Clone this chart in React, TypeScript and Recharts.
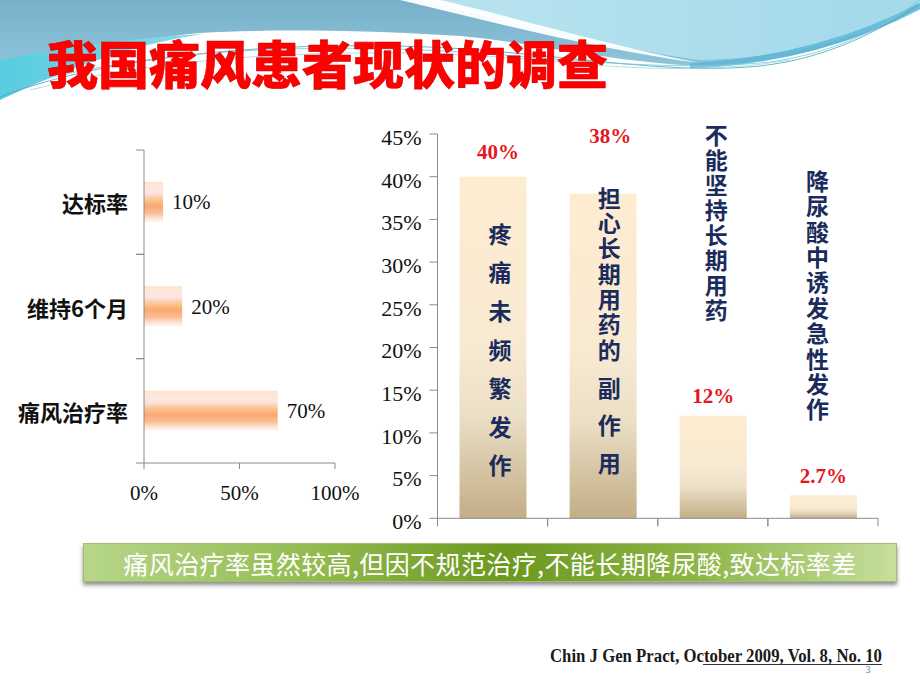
import React from 'react';
import { BarChart, Bar, XAxis, YAxis, LabelList } from 'recharts';

// ---------- data ----------
const leftCategories = ['达标率', '维持6个月', '痛风治疗率'];
const leftValues = [10, 20, 70];
const leftTicks = [0, 50, 100];

const rightCategories = ['疼痛未频繁发作', '担心长期用药的副作用', '不能坚持长期用药', '降尿酸中诱发急性发作'];
const rightValues = [40, 38, 12, 2.7];
const rightValueLabels = ['40%', '38%', '12%', '2.7%'];
const rightTicks = [0, 5, 10, 15, 20, 25, 30, 35, 40, 45];

const titleText = '我国痛风患者现状的调查';
const bannerText = '痛风治疗率虽然较高,但因不规范治疗,不能长期降尿酸,致达标率差';
const citationText = 'Chin J Gen Pract, October 2009, Vol. 8, No. 10';
const pageNumber = '3';

const leftData = leftCategories.map((name, i) => ({ name, value: leftValues[i] }));
const rightData = rightCategories.map((name, i) => ({ name, value: rightValues[i] }));

// ---------- layout ----------
const W = 920;
const H = 690;
const SERIF = '"Liberation Serif", "DejaVu Serif", serif';
const CJK = '"Noto Sans CJK SC", "Noto Sans", sans-serif';
const AXIS = '#8a8a8a';

const LEFT_PLOT = { left: 144, right: 335, top: 150, bottom: 463 };
const RIGHT_PLOT = { left: 437.5, right: 878, top: 134, bottom: 518.3 };
const leftBand = (LEFT_PLOT.bottom - LEFT_PLOT.top) / leftCategories.length;
const rightBand = (RIGHT_PLOT.right - RIGHT_PLOT.left) / rightCategories.length;

const RED_LIFT = [25, 58, 20, 19];
const RED_DX = [5, 7, 0, 0];
const VFONT = 23;
// vertical text segments: [from char, to char, first char centre y, step]
const V_LAYOUT = [
  { dx: 7, segs: [{ from: 0, to: 7, top: 234, step: 38.6 }] },
  { dx: 6, segs: [{ from: 0, to: 7, top: 198, step: 25.3 }, { from: 7, to: 10, top: 388, step: 37.6 }] },
  { dx: 3, segs: [{ from: 0, to: 8, top: 135, step: 25 }] },
  { dx: -6, segs: [{ from: 0, to: 10, top: 181, step: 25.4 }] },
];

const LeftCatTick = (props: any) => {
  const { x, y, payload } = props;
  const ax = Number(x);
  const cy = Number(y);
  return (
    <g>
      <line x1={ax - 8} x2={ax} y1={cy - leftBand / 2} y2={cy - leftBand / 2} stroke={AXIS} />
      <line x1={ax - 8} x2={ax} y1={cy + leftBand / 2} y2={cy + leftBand / 2} stroke={AXIS} />
      <text x={ax - 16} y={cy} textAnchor="end" dominantBaseline="central" fontFamily={CJK} fontWeight={700} fontSize={22} fill="#111">
        {payload.value}
      </text>
    </g>
  );
};

const RightCatTick = (props: any) => {
  const { x, y } = props;
  const cx = Number(x);
  const ay = Number(y);
  return (
    <g>
      <line x1={cx - rightBand / 2} x2={cx - rightBand / 2} y1={ay} y2={ay + 8} stroke={AXIS} />
      <line x1={cx + rightBand / 2} x2={cx + rightBand / 2} y1={ay} y2={ay + 8} stroke={AXIS} />
    </g>
  );
};

const renderRedLabel = (props: any) => {
  const { x, y, width, index } = props;
  const cx = Number(x) + Number(width) / 2 + RED_DX[index];
  const cy = Number(y) - RED_LIFT[index];
  return (
    <text key={'red' + index} x={cx} y={cy} textAnchor="middle" dominantBaseline="central" fill="#e5161c" fontFamily={SERIF} fontWeight={700} fontSize={21}>
      {rightValueLabels[index]}
    </text>
  );
};

const renderVText = (props: any) => {
  const { x, width, index } = props;
  const lay = V_LAYOUT[index];
  const chars = Array.from(rightCategories[index]);
  const cx = Number(x) + Number(width) / 2 + lay.dx;
  return (
    <g key={'vt' + index}>
      {lay.segs.map((s, k) => (
        <text key={k} x={cx} y={s.top - VFONT / 2} textAnchor="start" fill="#1b2c5c" fontFamily={CJK} fontWeight={700}
          fontSize={VFONT} style={{ writingMode: 'vertical-rl', letterSpacing: s.step - VFONT }}>
          {chars.slice(s.from, s.to).join('')}
        </text>
      ))}
    </g>
  );
};

const Background = () => (
  <svg width={W} height={H} style={{ position: 'absolute', left: 0, top: 0 }}>
    <defs>
      <linearGradient id="bgBlue" x1="0" y1="0" x2="0" y2="1">
        <stop offset="0" stopColor="#78b0ca" />
        <stop offset="0.6" stopColor="#8cc3d9" />
        <stop offset="1" stopColor="#9fd3e3" />
      </linearGradient>
      <linearGradient id="bgCyanR" x1="0" y1="0" x2="1" y2="0">
        <stop offset="0" stopColor="#b9e4ef" />
        <stop offset="1" stopColor="#a3d9ea" />
      </linearGradient>
      <linearGradient id="bgCyanL" x1="0" y1="0" x2="1" y2="0">
        <stop offset="0" stopColor="#56cde0" />
        <stop offset="1" stopColor="#8ad9e6" />
      </linearGradient>
    </defs>
    <rect x={0} y={0} width={W} height={H} fill="#ffffff" />
    <path d="M0,0 H920 V8 C860,40 790,64 700,66 C610,62 530,42 460,36 C360,30 270,29 200,33 C120,40 60,68 0,100 Z" fill="url(#bgBlue)" />
    <path d="M418,0 H920 V8 C860,38 790,58 700,60 C610,48 510,22 418,0 Z" fill="url(#bgCyanR)" />
    <path d="M400,0 C500,24 600,50 700,63 C610,46 510,16 440,0 Z" fill="#ffffff" opacity={0.95} />
    <path d="M0,60 C60,48 130,38 205,34 C130,44 60,72 0,100 Z" fill="url(#bgCyanL)" />
    <path d="M690,66 C780,62 860,38 920,6" stroke="#58b3d6" strokeWidth={6} fill="none" opacity={0.75} />
    <path d="M0,97 C120,50 320,38 480,50 C600,60 680,74 760,66 C830,58 880,30 920,4" stroke="#3ea9b9" strokeWidth={1} fill="none" opacity={0.8} />
    <path d="M0,92 C140,46 330,42 490,54 C610,64 690,70 770,62 C840,52 885,26 920,0" stroke="#7ac7d6" strokeWidth={1} fill="none" opacity={0.8} />
    <path d="M30,90 C180,52 380,44 560,62 C640,70 720,72 790,60" stroke="#9fd9e0" strokeWidth={1} fill="none" opacity={0.8} />
  </svg>
);

export default function App() {
  return (
    <div style={{ position: 'absolute', left: 0, top: 0, width: W, height: H, overflow: 'hidden', background: '#fff' }}>
      <Background />

      <svg width={W} height={120} style={{ position: 'absolute', left: 0, top: 0 }}>
        <text x={47} y={84} fontFamily={CJK} fontWeight={900} fontSize={51} fill="#ff0000" stroke="#d40000" strokeWidth={0.6}>
          {titleText}
        </text>
      </svg>

      <div style={{ position: 'absolute', left: 0, top: 0 }}>
        <BarChart width={W} height={H} layout="vertical" data={leftData}
          margin={{ top: LEFT_PLOT.top, left: 0, right: W - LEFT_PLOT.right, bottom: H - LEFT_PLOT.bottom - 30 }}>
          <defs>
            <linearGradient id="leftBarGrad" x1="0" y1="0" x2="0" y2="1">
              <stop offset="0" stopColor="#fde2c2" />
              <stop offset="0.12" stopColor="#fde7dc" />
              <stop offset="0.28" stopColor="#fde3e3" />
              <stop offset="0.45" stopColor="#fbc48c" />
              <stop offset="0.6" stopColor="#f9a874" />
              <stop offset="0.78" stopColor="#fbbf95" />
              <stop offset="0.92" stopColor="#fde7da" />
              <stop offset="1" stopColor="#fff7f2" />
            </linearGradient>
          </defs>
          <XAxis type="number" domain={[0, 100]} ticks={leftTicks} tickFormatter={(v: number) => v + '%'} height={30}
            axisLine={{ stroke: AXIS }} tickLine={{ stroke: AXIS }} tickSize={6} tickMargin={16}
            tick={{ fill: '#111', fontSize: 21, fontFamily: SERIF }} />
          <YAxis type="category" dataKey="name" width={LEFT_PLOT.left} axisLine={{ stroke: AXIS }} tickLine={false}
            tickSize={0} tickMargin={0} tick={<LeftCatTick />} />
          <Bar dataKey="value" barSize={40} fill="url(#leftBarGrad)" isAnimationActive={false}>
            <LabelList dataKey="value" position="right" offset={9} formatter={(v: any) => v + '%'}
              style={{ fill: '#111', fontSize: 21, fontFamily: SERIF }} />
          </Bar>
        </BarChart>
      </div>

      <div style={{ position: 'absolute', left: 0, top: 0 }}>
        <BarChart width={W} height={H} data={rightData}
          margin={{ top: RIGHT_PLOT.top, left: 360, right: W - RIGHT_PLOT.right, bottom: H - RIGHT_PLOT.bottom - 10 }}>
          <defs>
            <linearGradient id="rightBarGrad" x1="0" y1="0" x2="0" y2="1">
              <stop offset="0" stopColor="#fdecd0" />
              <stop offset="0.5" stopColor="#f8ead2" />
              <stop offset="0.7" stopColor="#ebdfc6" />
              <stop offset="1" stopColor="#c2ad86" />
            </linearGradient>
          </defs>
          <XAxis dataKey="name" height={10} axisLine={{ stroke: AXIS }} tickLine={false} tickSize={0} tickMargin={0}
            tick={<RightCatTick />} interval={0} />
          <YAxis type="number" domain={[0, 45]} ticks={rightTicks} width={RIGHT_PLOT.left - 360}
            tickFormatter={(v: number) => v + '%'} axisLine={{ stroke: AXIS }} tickLine={{ stroke: AXIS }}
            tickSize={8} tickMargin={8} tick={{ fill: '#111', fontSize: 22, fontFamily: SERIF, dy: 3 }} />
          <Bar dataKey="value" barSize={67} fill="url(#rightBarGrad)" isAnimationActive={false}>
            <LabelList dataKey="value" content={renderVText} />
            <LabelList dataKey="value" content={renderRedLabel} />
          </Bar>
        </BarChart>
      </div>

      <div style={{
        position: 'absolute', left: 83, top: 543, width: 814, height: 39,
        background: 'linear-gradient(90deg, #b7d68a 0%, #93bb4f 28%, #6c981f 52%, #8cb545 75%, #c6df9e 100%)',
        boxShadow: '0 3px 4px rgba(0,0,0,0.45)', border: '1px solid #9fbf6a', boxSizing: 'border-box',
        display: 'flex', alignItems: 'center', justifyContent: 'center',
        color: '#ffffff', fontFamily: CJK, fontSize: 25, letterSpacing: 0.4, whiteSpace: 'nowrap',
      }}>
        {bannerText}
      </div>

      <svg width={W} height={H} style={{ position: 'absolute', left: 0, top: 0, pointerEvents: 'none' }}>
        <text x={550} y={661.5} fontFamily={SERIF} fontWeight={700} fontSize={18} fill="#1a1a1a"
          textLength={332} lengthAdjust="spacingAndGlyphs">
          {citationText}
        </text>
        <line x1={703} x2={882} y1={664.5} y2={664.5} stroke="#333" strokeWidth={1} />
        <text x={868} y={673} fontFamily={SERIF} fontSize={10} fill="#4f81a0" textAnchor="middle">{pageNumber}</text>
      </svg>
    </div>
  );
}
